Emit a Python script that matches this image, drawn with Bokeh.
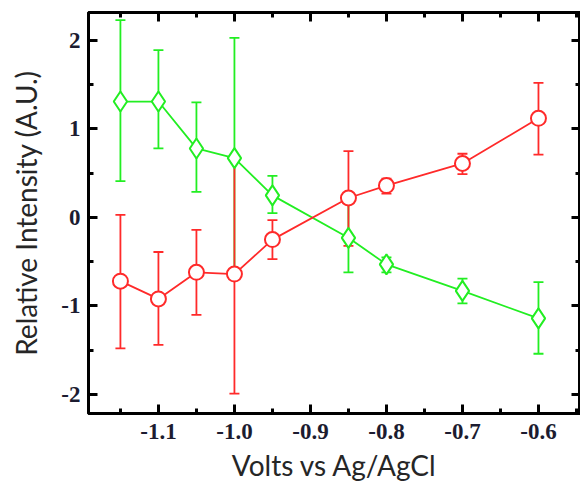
from bokeh.plotting import figure
from bokeh.models import (ColumnDataSource, Whisker, TeeHead, Range1d, LinearAxis,
                          SingleIntervalTicker, NumeralTickFormatter)
from bokeh.embed import file_html
from bokeh.resources import INLINE

# Potential (V vs Ag/AgCl)
volts = [-1.15, -1.10, -1.05, -1.00, -0.95, -0.85, -0.80, -0.70, -0.60]

# Series A (green diamonds): mean and error-bar limits
green_y = [1.31, 1.31, 0.78, 0.67, 0.25, -0.23, -0.53, -0.83, -1.14]
green_hi = [2.23, 1.89, 1.30, 2.03, 0.47, 0.16, -0.45, -0.69, -0.73]
green_lo = [0.41, 0.78, 0.29, -0.65, 0.05, -0.62, -0.62, -0.97, -1.54]

# Series B (red circles): mean and error-bar limits
red_y = [-0.72, -0.92, -0.62, -0.64, -0.25, 0.22, 0.36, 0.61, 1.12]
red_hi = [0.03, -0.39, -0.14, 0.69, -0.03, 0.75, 0.44, 0.72, 1.52]
red_lo = [-1.48, -1.44, -1.10, -1.99, -0.47, -0.32, 0.27, 0.49, 0.71]

GREEN = "#22ee22"
RED = "#ff2a2a"

p = figure(width=580, height=485, output_backend="svg", toolbar_location=None,
           x_range=Range1d(-1.192, -0.5447), y_range=Range1d(-2.215, 2.316),
           min_border_left=88, min_border_top=12, min_border_bottom=72,
           min_border_right=0)
p.xaxis.visible = False
p.yaxis.visible = False
p.grid.visible = False
p.outline_line_color = "black"
p.outline_line_width = 3
p.background_fill_color = "white"
p.border_fill_color = "white"

xt = SingleIntervalTicker(interval=0.1, num_minor_ticks=2)
yt = SingleIntervalTicker(interval=1, num_minor_ticks=2)


def style(ax, show_labels):
    ax.axis_line_color = "black"
    ax.axis_line_width = 3
    ax.major_tick_in = 9
    ax.major_tick_out = 0
    ax.minor_tick_in = 5
    ax.minor_tick_out = 0
    ax.major_tick_line_width = 3
    ax.minor_tick_line_width = 3
    ax.major_tick_line_color = "black"
    ax.minor_tick_line_color = "black"
    if not show_labels:
        ax.major_label_text_font_size = "0px"
        ax.major_label_text_color = None
        ax.major_label_standoff = 0
    else:
        ax.major_label_text_font = "Liberation Serif"
        ax.major_label_text_font_style = "bold"
        ax.major_label_text_font_size = "23px"
        ax.major_label_text_color = "#1c1c30"
        ax.axis_label_text_font = "Lato"
        ax.axis_label_text_font_style = "normal"
        ax.axis_label_text_font_size = "28px"
        ax.axis_label_text_color = "#262626"


xb = LinearAxis(ticker=xt, formatter=NumeralTickFormatter(format="0.0"),
                axis_label="Volts vs Ag/AgCl")
style(xb, True)
xb.major_label_standoff = 10
xb.axis_label_standoff = 6
p.add_layout(xb, "below")

yl = LinearAxis(ticker=yt, formatter=NumeralTickFormatter(format="0"),
                axis_label="Relative Intensity (A.U.)")
style(yl, True)
yl.major_label_standoff = 8
yl.axis_label_standoff = 15
p.add_layout(yl, "left")

xa = LinearAxis(ticker=SingleIntervalTicker(interval=0.1, num_minor_ticks=2))
style(xa, False)
p.add_layout(xa, "above")

yr = LinearAxis(ticker=SingleIntervalTicker(interval=1, num_minor_ticks=2))
style(yr, False)
p.add_layout(yr, "right")

gsrc = ColumnDataSource(dict(x=volts, y=green_y, hi=green_hi, lo=green_lo))
rsrc = ColumnDataSource(dict(x=volts, y=red_y, hi=red_hi, lo=red_lo))

for src, col in ((gsrc, GREEN), (rsrc, RED)):
    w = Whisker(base="x", upper="hi", lower="lo", source=src,
                line_color=col, line_width=1.8,
                upper_head=TeeHead(size=10, line_color=col, line_width=1.8),
                lower_head=TeeHead(size=10, line_color=col, line_width=1.8))
    p.add_layout(w)

p.line("x", "y", source=gsrc, line_color=GREEN, line_width=1.8)
p.scatter("x", "y", source=gsrc, marker="diamond", size=20,
          line_color=GREEN, line_width=2, fill_color="white")

p.line("x", "y", source=rsrc, line_color=RED, line_width=1.8)
p.scatter("x", "y", source=rsrc, marker="circle", size=15,
          line_color=RED, line_width=2, fill_color="white")

open("out.html", "w").write(file_html(p, INLINE))
